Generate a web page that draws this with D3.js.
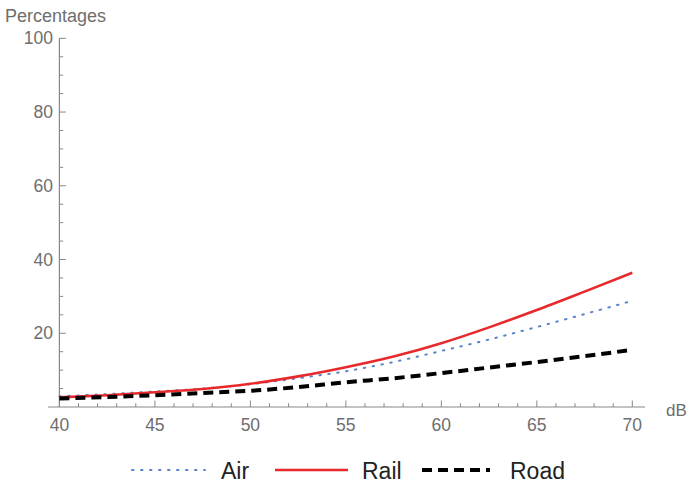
<!DOCTYPE html>
<html>
<head>
<meta charset="utf-8">
<script src="https://cdn.jsdelivr.net/npm/d3@7"></script>
<style>
  body { margin: 0; background: #fff; }
  text { font-family: "Liberation Sans", Arial, sans-serif; fill: #6e6e6e; }
</style>
</head>
<body>
<svg width="687" height="484"></svg>
<script>
// values, every 2.5 dB
var dB   = [40, 42.5, 45, 47.5, 50, 52.5, 55, 57.5, 60, 62.5, 65, 67.5, 70]
var air  = [2.9, 3.5, 4.2, 5.0, 6.2, 7.8, 9.7, 12.2, 15.2, 18.3, 21.7, 25.2, 28.8]
var rail = [2.6, 3.2, 4.0, 4.9, 6.3, 8.3, 10.8, 13.7, 17.3, 21.6, 26.3, 31.3, 36.4]
var road = [2.3, 2.7, 3.2, 3.8, 4.4, 5.4, 6.7, 7.8, 9.2, 10.7, 12.2, 13.8, 15.5]
var xTicks = [40, 45, 50, 55, 60, 65, 70]
var yTicks = [20, 40, 60, 80, 100]

var series = [
  {name: "Air",  values: air,  color: "#5b82cc", width: 2,   dash: "1.5,7.5", cap: "round"},
  {name: "Rail", values: rail, color: "#e8292b", width: 2.6, dash: null,      cap: "butt"},
  {name: "Road", values: road, color: "#000",    width: 4,   dash: "10,6",    cap: "butt"}
]

var svg = d3.select("svg")
var x = d3.scaleLinear().domain([40, 70]).range([59.4, 632.3])
var y = d3.scaleLinear().domain([0, 100]).range([407, 38.3])
var axisColor = "#888"

// axes lines
svg.append("line").attr("x1", 48).attr("x2", 645).attr("y1", y(0)).attr("y2", y(0))
  .attr("stroke", axisColor).attr("stroke-width", 1.2)
svg.append("line").attr("x1", x(40)).attr("x2", x(40)).attr("y1", y(100)).attr("y2", y(0))
  .attr("stroke", axisColor).attr("stroke-width", 1.2)

// x ticks (inward)
svg.selectAll(".xt").data(d3.range(40, 71, 1)).enter().append("line")
  .attr("x1", d => x(d)).attr("x2", d => x(d))
  .attr("y1", y(0)).attr("y2", d => y(0) - (d % 5 === 0 ? 6.5 : 3.8))
  .attr("stroke", axisColor)
svg.selectAll(".xl").data(xTicks).enter().append("text")
  .attr("x", d => x(d)).attr("y", 431)
  .attr("text-anchor", "middle").attr("font-size", 17.5)
  .text(d => d)

// y ticks (inward)
svg.selectAll(".yt").data(d3.range(5, 101, 5)).enter().append("line")
  .attr("x1", x(40)).attr("x2", d => x(40) + (d % 20 === 0 ? 6.5 : 3.8))
  .attr("y1", d => y(d)).attr("y2", d => y(d))
  .attr("stroke", axisColor)
svg.selectAll(".yl").data(yTicks).enter().append("text")
  .attr("x", 53).attr("y", d => y(d) + 6)
  .attr("text-anchor", "end").attr("font-size", 17.5)
  .text(d => d)

svg.append("text").attr("x", 5).attr("y", 22).attr("font-size", 18).text("Percentages")
svg.append("text").attr("x", 666).attr("y", 416).attr("font-size", 17).text("dB")

// curves
var line = d3.line().curve(d3.curveMonotoneX)
  .x((d, i) => x(dB[i])).y(d => y(d))

svg.selectAll(".series").data(series).enter().append("path")
  .attr("d", d => line(d.values))
  .attr("fill", "none")
  .attr("stroke", d => d.color)
  .attr("stroke-width", d => d.width)
  .attr("stroke-dasharray", d => d.dash)
  .attr("stroke-linecap", d => d.cap)

// legend
var legendX = [132, 275, 422]
var lg = svg.selectAll(".lg").data(series).enter().append("g")
  .attr("transform", (d, i) => "translate(" + legendX[i] + ",470)")
lg.append("line").attr("x1", 0).attr("x2", d => d.name === "Road" ? 68 : 73)
  .attr("stroke", d => d.color)
  .attr("stroke-width", d => d.width)
  .attr("stroke-dasharray", d => d.dash)
  .attr("stroke-linecap", d => d.cap)
lg.append("text").attr("x", (d, i) => [89, 87, 88][i]).attr("y", 8.5)
  .attr("font-size", 23).style("fill", "#222")
  .text(d => d.name)
</script>
</body>
</html>
